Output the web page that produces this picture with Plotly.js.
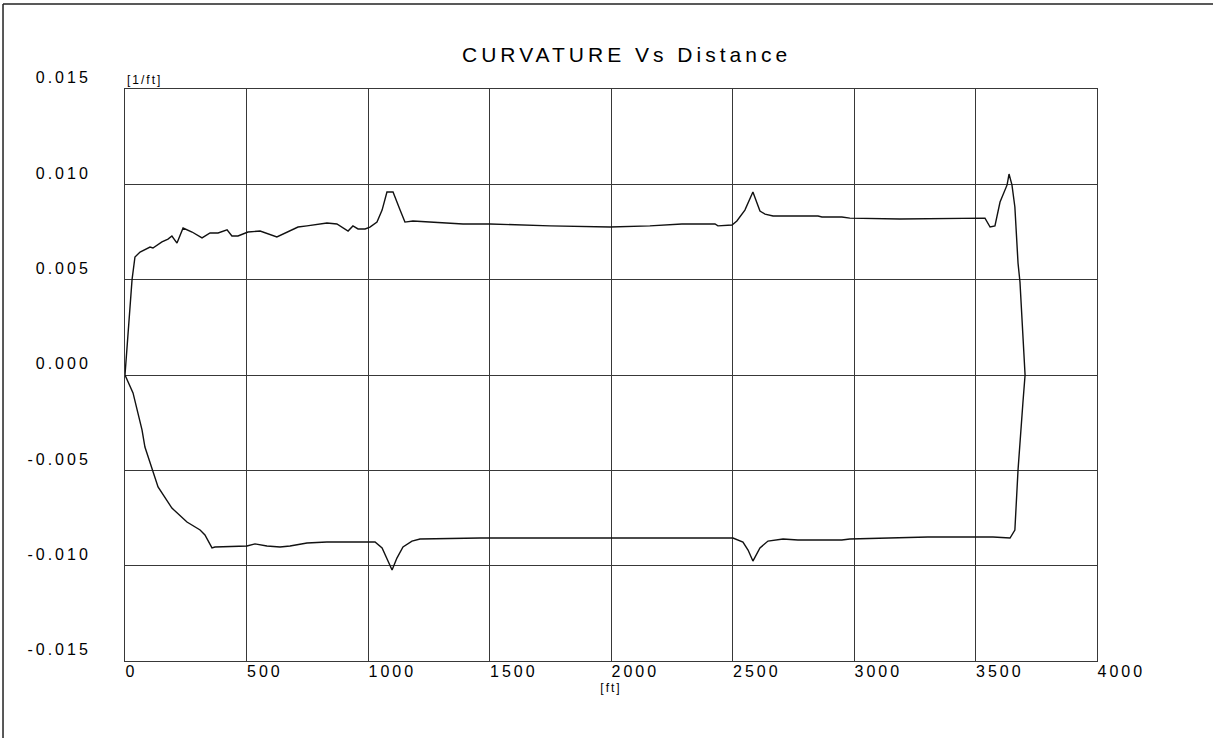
<!DOCTYPE html>
<html>
<head>
<meta charset="utf-8">
<script src="https://cdn.plot.ly/plotly-3.0.1.min.js"></script>
<style>
  html, body { margin: 0; padding: 0; background: #fff; }
  #chart { width: 1213px; height: 738px; }
  .xtick text, .ytick text { letter-spacing: 3px; }
  .gtitle { letter-spacing: 4px; }
  .annotation-text { letter-spacing: 2px; }
  .g-xtitle text { letter-spacing: 2px; }
</style>
</head>
<body>
<div id="chart"></div>
<script>
// Upper branch (positive curvature) : distance [ft], curvature [1/ft]
const upperDist = [0, 4, 29, 41, 62, 103, 115, 152, 177, 193, 214, 239, 276, 317, 350, 383, 420, 440, 465, 506, 556, 625, 712, 749, 831, 872, 918, 938, 959, 988, 1008, 1037, 1058, 1078, 1103, 1132, 1152, 1185, 1288, 1391, 1502, 1749, 1996, 2160, 2292, 2428, 2440, 2498, 2518, 2551, 2584, 2613, 2634, 2667, 2852, 2868, 2950, 2983, 3189, 3510, 3539, 3560, 3580, 3601, 3630, 3638, 3650, 3662, 3675, 3683, 3695, 3704];
const upperCurv = [0, 0.00063, 0.0050, 0.00619, 0.00645, 0.00671, 0.00666, 0.00698, 0.00713, 0.00729, 0.00692, 0.00771, 0.00750, 0.00719, 0.00745, 0.00745, 0.00761, 0.00729, 0.00729, 0.00750, 0.00755, 0.00724, 0.00776, 0.00782, 0.00797, 0.00792, 0.00755, 0.00782, 0.00766, 0.00766, 0.00776, 0.00802, 0.00865, 0.00960, 0.00960, 0.00865, 0.00802, 0.00808, 0.00802, 0.00792, 0.00792, 0.00782, 0.00776, 0.00782, 0.00792, 0.00792, 0.00782, 0.00787, 0.00808, 0.00865, 0.00960, 0.00860, 0.00844, 0.00834, 0.00834, 0.00829, 0.00829, 0.00823, 0.00818, 0.00823, 0.00823, 0.00776, 0.00782, 0.00907, 0.00997, 0.01054, 0.00997, 0.00881, 0.00587, 0.00488, 0.00199, 0];

// Lower branch (negative curvature)
const lowerDist = [0, 33, 70, 82, 136, 193, 255, 309, 329, 358, 370, 502, 535, 584, 638, 679, 749, 831, 967, 1029, 1058, 1078, 1099, 1119, 1144, 1181, 1214, 1461, 1543, 2160, 2502, 2543, 2564, 2584, 2613, 2646, 2708, 2769, 2950, 2983, 3189, 3304, 3572, 3642, 3662, 3675, 3695, 3704];
const lowerCurv = [0, -0.00094, -0.00288, -0.00378, -0.00587, -0.00698, -0.00771, -0.00813, -0.00839, -0.00907, -0.00902, -0.00897, -0.00886, -0.00897, -0.00902, -0.00897, -0.00881, -0.00876, -0.00876, -0.00876, -0.00907, -0.00960, -0.01023, -0.00960, -0.00902, -0.00871, -0.00860, -0.00855, -0.00855, -0.00855, -0.00855, -0.00876, -0.00918, -0.00976, -0.00907, -0.00871, -0.00860, -0.00865, -0.00865, -0.00860, -0.00855, -0.00850, -0.00850, -0.00855, -0.00813, -0.00498, -0.00147, 0];

const xTickVals = [0, 500, 1000, 1500, 2000, 2500, 3000, 3500, 4000];
const xTickText = ['0', '500', '1000', '1500', '2000', '2500', '3000', '3500', '4000'];
const yTickVals = [-0.015, -0.010, -0.005, 0.000, 0.005, 0.010, 0.015];
const yTickText = ['-0.015', '-0.010', '-0.005', '0.000', '0.005', '0.010', '0.015'];

const lineStyle = { color: '#111', width: 1.4 };
const traces = [
  { x: upperDist, y: upperCurv, mode: 'lines', line: lineStyle, hoverinfo: 'skip', showlegend: false },
  { x: lowerDist, y: lowerCurv, mode: 'lines', line: lineStyle, hoverinfo: 'skip', showlegend: false }
];

const gridCol = '#383838';
const font = 'Arial, "Liberation Sans", sans-serif';

const layout = {
  width: 1213, height: 738,
  margin: { l: 125, r: 116, t: 89, b: 77, pad: 0 },
  paper_bgcolor: '#fff', plot_bgcolor: '#fff',
  showlegend: false,
  title: {
    text: 'CURVATURE Vs Distance',
    font: { family: font, size: 21, color: '#000' },
    xref: 'paper', x: 0.516, xanchor: 'center',
    yref: 'container', y: 1 - 55 / 738, yanchor: 'middle'
  },
  xaxis: {
    range: [0, 4000], tickmode: 'array', tickvals: xTickVals, ticktext: xTickText,
    showgrid: true, gridcolor: gridCol, gridwidth: 1,
    showline: true, linecolor: gridCol, linewidth: 1, mirror: true,
    zeroline: false, ticks: '', ticklabelposition: 'outside right',
    ticklabelstandoff: -4,
    tickfont: { family: font, size: 16, color: '#000' },
    title: { text: '[ft]', font: { family: font, size: 12, color: '#000' }, standoff: 4 },
    fixedrange: true
  },
  yaxis: {
    range: [-0.015, 0.015], tickmode: 'array', tickvals: yTickVals, ticktext: yTickText,
    showgrid: true, gridcolor: gridCol, gridwidth: 1,
    showline: true, linecolor: gridCol, linewidth: 1, mirror: true,
    zeroline: false, ticks: '', ticklabelposition: 'outside top',
    ticklabelstandoff: 30,
    tickfont: { family: font, size: 16, color: '#000' },
    fixedrange: true
  },
  annotations: [
    { text: '[1/ft]', xref: 'paper', yref: 'paper', x: 0, y: 1.0157, xanchor: 'left', yanchor: 'middle',
      showarrow: false, font: { family: font, size: 12, color: '#000' } }
  ],
  shapes: [
    { type: 'line', xref: 'paper', yref: 'paper', x0: -0.1255, x1: -0.1255, y0: -0.2, y1: 1.1486,
      line: { color: '#222', width: 1.5 } },
    { type: 'line', xref: 'paper', yref: 'paper', x0: -0.1255, x1: 1.2, y0: 1.1486, y1: 1.1486,
      line: { color: '#222', width: 1.5 } }
  ]
};

Plotly.newPlot('chart', traces, layout, { staticPlot: true, displayModeBar: false });
</script>
</body>
</html>
